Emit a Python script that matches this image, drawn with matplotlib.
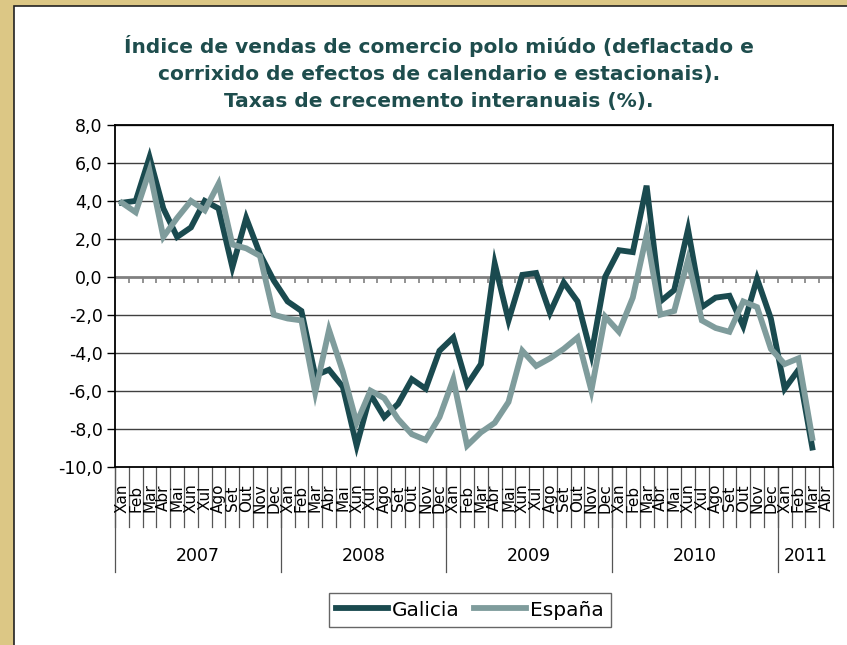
import numpy as np
import matplotlib
matplotlib.use("Agg")
import matplotlib.pyplot as plt
from matplotlib.patches import Rectangle
from matplotlib.lines import Line2D
from matplotlib.transforms import blended_transform_factory

# Données (taxas interanuais, %), Xan 2007 -> Mar 2011
meses = ["Xan", "Feb", "Mar", "Abr", "Mai", "Xun", "Xul", "Ago", "Set", "Out", "Nov", "Dec"]
anos = ["2007", "2008", "2009", "2010", "2011"]
meses_por_ano = [12, 12, 12, 12, 4]

galicia = [3.9, 4.0, 6.3, 3.6, 2.1, 2.6, 4.0, 3.6, 0.5, 3.1, 1.2, -0.2,
           -1.3, -1.8, -5.2, -4.9, -5.8, -8.9, -6.2, -7.4, -6.7, -5.4, -5.9, -3.9,
           -3.2, -5.7, -4.6, 0.7, -2.3, 0.1, 0.2, -1.9, -0.3, -1.3, -4.1, 0.0,
           1.4, 1.3, 4.8, -1.3, -0.7, 2.5, -1.6, -1.1, -1.0, -2.6, -0.1, -2.2,
           -5.9, -4.9, -9.0]
espana = [3.9, 3.4, 5.6, 2.1, 3.1, 4.0, 3.5, 4.9, 1.7, 1.5, 1.1, -2.0,
          -2.2, -2.3, -6.1, -2.8, -5.0, -7.7, -6.0, -6.4, -7.5, -8.3, -8.6, -7.4,
          -5.4, -8.9, -8.2, -7.7, -6.6, -3.9, -4.7, -4.3, -3.8, -3.2, -6.0, -2.1,
          -2.9, -1.1, 2.2, -2.0, -1.8, 0.9, -2.3, -2.7, -2.9, -1.3, -1.6, -3.8,
          -4.6, -4.3, -8.5]

titulo = ("Índice de vendas de comercio polo miúdo (deflactado e\n"
          "corrixido de efectos de calendario e estacionais).\n"
          "Taxas de crecemento interanuais (%).")

col_galicia = "#1A4A4F"
col_espana = "#7F9C9C"
col_titulo = "#1E4D4D"

plt.rcParams["font.family"] = ["DejaVu Sans"]

W, H = 847, 645
fig = plt.figure(figsize=(W / 100, H / 100), dpi=100)
fig.patch.set_facecolor("#DCC785")

# panel branco con bordo
fig.patches.append(Rectangle((14 / W, -0.05), 1.1, 1 - 6 / H + 0.05,
                             transform=fig.transFigure, facecolor="white",
                             edgecolor="#222222", linewidth=1.2, zorder=-5))

ax = fig.add_axes([115 / W, 1 - 466.5 / H, (833 - 115) / W, (466.5 - 125) / H])
ax.set_facecolor("white")

etiquetas = [m for n in meses_por_ano for m in meses[:n]]
n_cat = len(etiquetas)
x = np.arange(len(galicia))

ax.set_xlim(-0.5, n_cat - 0.5)
ax.set_ylim(-10, 8)
ax.set_yticks(np.arange(-10, 8.1, 2))
ax.set_yticklabels([f"{v:.1f}".replace(".", ",") for v in np.arange(-10, 8.1, 2)], fontsize=12.5)
ax.tick_params(axis="y", direction="out", length=6, width=1, pad=3, colors="black")
ax.set_xticks([])

for v in np.arange(-8, 8.1, 2):
    if v != 0:
        ax.axhline(v, color="#404040", linewidth=1, zorder=1)
ax.axhline(0, color="#808080", linewidth=2, zorder=1)
# marcas da categoria na liña do cero
ax.vlines(np.arange(-0.5, n_cat), -0.35, 0, color="#808080", linewidth=1.2, zorder=1)

for s in ax.spines.values():
    s.set_color("black")
    s.set_linewidth(1.3)

ax.plot(x, galicia, color=col_galicia, linewidth=4.2, solid_joinstyle="miter", zorder=3)
ax.plot(x, espana, color=col_espana, linewidth=4.2, solid_joinstyle="miter", zorder=4)

# eixo de categorías en dous niveis
tr = blended_transform_factory(ax.transData, fig.transFigure)
y_ax = 1 - 466.5 / H
y_mes = 1 - 527 / H
y_ano = 1 - 572 / H
for i, m in enumerate(etiquetas):
    ax.text(i, 1 - 498 / H, m, transform=tr, rotation=90, ha="center", va="center",
            fontsize=11, clip_on=False)
for b in np.arange(-0.5, n_cat):
    ax.add_line(Line2D([b, b], [y_ax, y_mes], transform=tr, color="#555555",
                       linewidth=0.9, clip_on=False))
inicio = 0
for a, n in zip(anos, meses_por_ano):
    ax.text(inicio + (n - 1) / 2, 1 - 556 / H, a, transform=tr, ha="center", va="center",
            fontsize=12.5, clip_on=False)
    ax.add_line(Line2D([inicio - 0.5, inicio - 0.5], [y_ax, y_ano], transform=tr,
                       color="#555555", linewidth=0.9, clip_on=False))
    inicio += n

fig.text(439 / W, 1 - 73 / H, titulo, ha="center", va="center", fontsize=14.5,
         fontweight="bold", color=col_titulo, linespacing=1.55)

handles = [Line2D([], [], color=col_galicia, linewidth=4.2),
           Line2D([], [], color=col_espana, linewidth=4.2)]
leg = fig.legend(handles, ["Galicia", "España"], loc="center",
                 bbox_to_anchor=(470 / W, 1 - 610 / H), ncol=2, fontsize=14.5,
                 frameon=True, fancybox=False, handlelength=2.6, handletextpad=0.2,
                 columnspacing=0.7, borderpad=0.35)
leg.get_frame().set_edgecolor("#404040")
leg.get_frame().set_linewidth(1)

fig.savefig("out.png", dpi=100, facecolor=fig.get_facecolor())
